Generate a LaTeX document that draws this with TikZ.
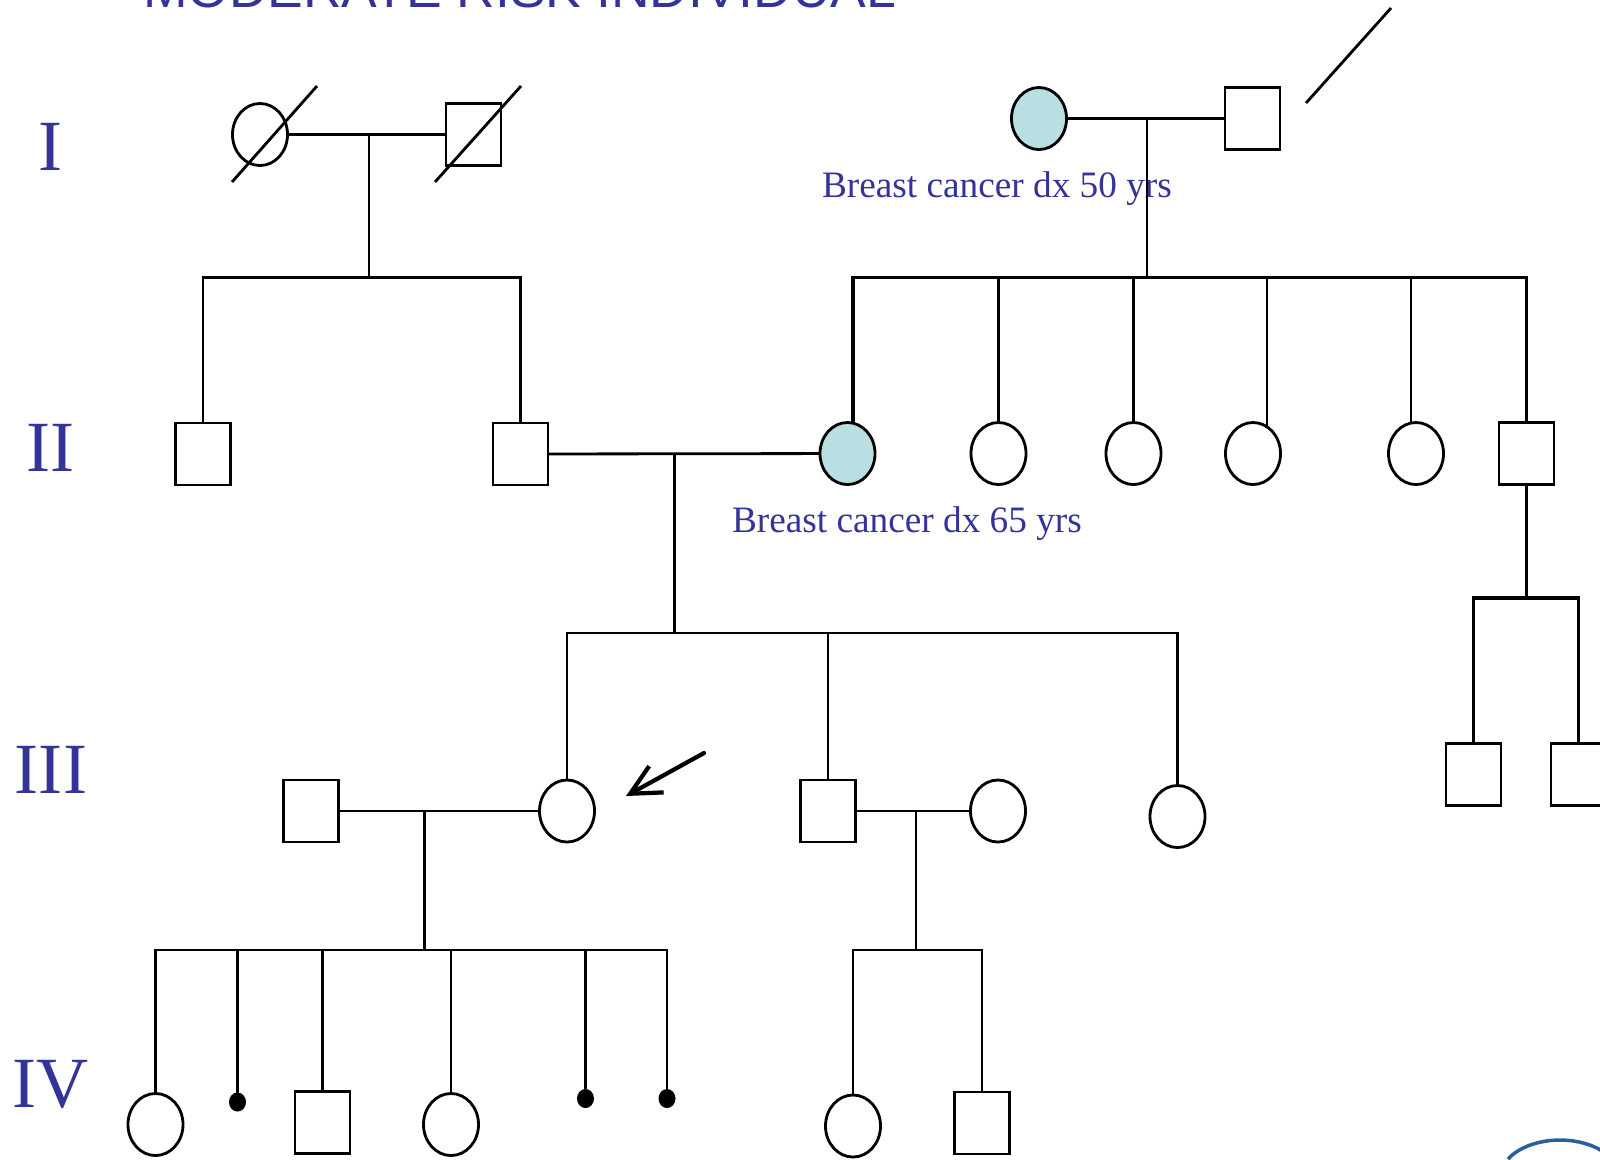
\documentclass[tikz,border=0pt]{standalone}
\usepackage{fontspec}
\setmainfont{Liberation Serif}
\newfontfamily\titlefont{Liberation Sans}
\usetikzlibrary{shapes.geometric,arrows.meta}
\definecolor{affblue}{HTML}{B9DFE3}
\definecolor{txtblue}{HTML}{333399}
\definecolor{logoblue}{HTML}{2A5F9E}

\begin{document}
\begin{tikzpicture}[x=0.01cm,y=-0.01cm,line width=0.8pt,inner sep=0pt,outer sep=0pt,
	male/.style={draw,rectangle,minimum width=0.55cm,minimum height=0.62cm},
	female/.style={draw,ellipse,minimum width=0.55cm,minimum height=0.62cm},
	affected/.style={fill=affblue},
	loss/.style={fill,ellipse,minimum width=0.17cm,minimum height=0.19cm},
	thin line/.style={line width=0.6pt},
	heavy line/.style={line width=1.1pt},
	proband/.style={line width=1.2pt,line cap=round,-{Straight Barb[length=0.3cm,width=0.3cm]}},
	gen/.style={text=txtblue,font=\fontsize{20.5}{24}\selectfont,anchor=base},
	dx/.style={text=txtblue,font=\fontsize{10.6}{13}\selectfont,anchor=base west}]
	\useasboundingbox (0,0) rectangle (1600,1159);

	\node[anchor=base west,text=txtblue,font=\titlefont\fontsize{15.2}{18}\selectfont] (title) at (143,7.5) {MODERATE RISK INDIVIDUAL};

	\foreach \g/\y in {I/170.5,II/471.5,III/793,IV/1107}
		\node[gen] (gen \g) at (51,\y) {\g};

	% generation I
	\node[female] (I 1) at (260,134.5) {};
	\node[male] (I 2) at (473.5,134.5) {};
	\node[female,affected] (I 3) at (1039,118.5) {};
	\node[male] (I 4) at (1252.5,118.5) {};
	\node[dx] (dx I 3) at (822,197) {Breast cancer dx 50 yrs};

	\draw (I 1) -- (I 2);
	\draw[heavy line] (I 3) -- (I 4);
	\draw ([shift={(-28,47.5)}]I 1.center) -- ([shift={(57,-48.5)}]I 1.center);
	\draw ([shift={(-38.5,47.5)}]I 2.center) -- ([shift={(47.5,-48.5)}]I 2.center);
	\draw (1306,103) -- (1391,8);

	\coordinate (c1) at (369,134.5);
	\coordinate (s1) at (369,277.5);
	\coordinate (c2) at (1147,118.5);
	\coordinate (s2) at (1147,277.5);

	% generation II
	\node[male] (II 1) at (203,454) {};
	\node[male] (II 2) at (520.5,454) {};
	\node[female,affected] (II 3) at (847.5,453.5) {};
	\foreach \n/\x in {4/998.5,5/1133.5,6/1253,7/1416}
		\node[female] (II \n) at (\x,453.5) {};
	\node[male] (II 8) at (1526.5,453.5) {};
	\node[dx] (dx II 3) at (732,532) {Breast cancer dx 65 yrs};

	\draw (c1) -- (s1);
	\draw (II 1.north) |- (s1) -| (II 2.north);
	\draw[thin line] (c2) -- (s2);
	\draw[heavy line] (II 3.80) |- (s2) -| (II 8.north);
	\draw[thin line] (II 4.north) -- (II 4.north |- s2);
	\draw[thin line] (II 5.north) -- (II 5.north |- s2);
	\draw[thin line] (II 6.62) -- (II 6.62 |- s2);
	\draw[thin line] (II 7.100) -- (II 7.100 |- s2);

	\draw (II 2) -- (II 3);
	\coordinate (c3) at (674.5,453.5);
	\coordinate (s3) at (674.5,633);
	\coordinate (s4) at (1526.5,598);
	\draw[thin line] (c3) -- (s3);
	\draw[heavy line] (II 8.south) -- (s4);

	% generation III
	\node[male] (III 1) at (311,811) {};
	\node[female] (III 2) at (567,811) {};
	\node[male] (III 3) at (828,811) {};
	\node[female] (III 4) at (998,811) {};
	\node[female] (III 5) at (1177.5,816.5) {};
	\node[male] (III 6) at (1473.5,774.5) {};
	\node[male] (III 7) at (1578.5,774.5) {};

	\draw[thin line] (III 2.north) |- (s3) -| (III 5.north);
	\draw (III 3.north) -- (III 3.north |- s3);
	\draw[heavy line] (III 6.north) |- (s4) -| (III 7.north);

	\coordinate (arrow tail) at (704,753);
	\coordinate (arrow tip) at (626,796);
	\draw[proband] (arrow tail) -- (arrow tip);

	\draw (III 1) -- (III 2);
	\draw (III 3) -- (III 4);
	\coordinate (c4) at (424.5,811);
	\coordinate (s5) at (424.5,950);
	\coordinate (c5) at (916,811);
	\coordinate (s6) at (916,950);
	\draw (c4) -- (s5);
	\draw (c5) -- (s6);

	% generation IV
	\node[female] (IV 1) at (155.5,1124.5) {};
	\node[loss] (IV 2) at (237.5,1102) {};
	\node[male] (IV 3) at (322.5,1122.5) {};
	\node[female] (IV 4) at (451,1124.5) {};
	\node[loss] (IV 5) at (585.5,1098.5) {};
	\node[loss] (IV 6) at (667,1098.5) {};
	\node[female] (IV 7) at (853,1126) {};
	\node[male] (IV 8) at (982,1123) {};

	\draw (IV 1.north) |- (s5) -| (IV 6.north);
	\foreach \n in {2,3,4,5}
		\draw (IV \n.north) -- (IV \n.north |- s5);
	\draw (IV 7.north) |- (s6) -| (IV 8.north);

	\draw[logoblue,line width=1pt] (1508,1159) arc[start angle=210,end angle=330,x radius=60,y radius=38];
\end{tikzpicture}
\end{document}
